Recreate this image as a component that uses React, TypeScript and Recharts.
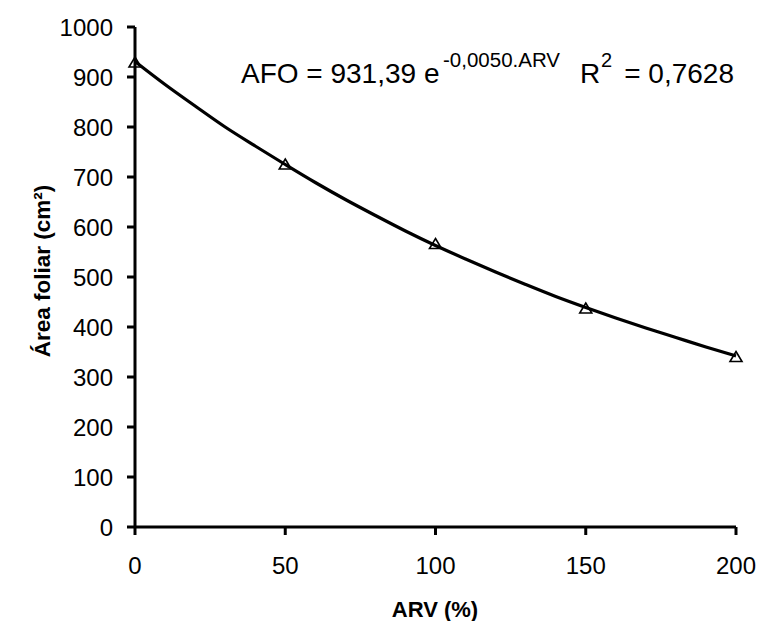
import {
    ComposedChart,
    Label,
    Line,
    Scatter,
    XAxis,
    YAxis,
} from 'recharts';

// fitted curve
const curveArv = [0, 10, 20, 30, 40, 50, 60, 70, 80, 90, 100, 110, 120, 130, 140, 150, 160, 170, 180, 190, 200];
const curveAfo = [931, 885, 842, 800, 762, 725, 689, 655, 623, 592, 563, 536, 510, 485, 461, 439, 418, 398, 379, 360, 342];

// observed points
const obsArv = [0, 50, 100, 150, 200];
const obsAfo = [929, 725, 566, 437, 340];

const xTicks = [0, 50, 100, 150, 200];
const yTicks = [0, 100, 200, 300, 400, 500, 600, 700, 800, 900, 1000];

const curveData = curveArv.map((x, i) => ({ x, afo: curveAfo[i] }));
const obsData = obsArv.map((x, i) => ({ x, obs: obsAfo[i] }));

const FONT = '"Liberation Sans", Arial, sans-serif';

function Triangle(props: any) {
    const { cx, cy } = props;
    if (cx == null || cy == null) return null;
    return (
        <path
            d={`M${cx},${cy - 5.5} L${cx + 6},${cy + 4.5} L${cx - 6},${cy + 4.5} Z`}
            fill="none"
            stroke="#000"
            strokeWidth={1.6}
        />
    );
}

export default function App() {
    return (
        <div style={{ position: 'absolute', left: 0, top: 0, width: 761, height: 621, background: '#fff', fontFamily: FONT }}>
            <ComposedChart
                width={761}
                height={621}
                data={curveData}
                margin={{ top: 27, right: 25, left: 0, bottom: 34 }}
            >
                <XAxis
                    dataKey="x"
                    type="number"
                    domain={[0, 200]}
                    ticks={xTicks}
                    height={60}
                    axisLine={{ stroke: '#000', strokeWidth: 3 }}
                    tickSize={8}
                    tickMargin={22}
                    tick={{ fill: '#000', fontSize: 24, fontFamily: FONT }}
                    tickLine={{ stroke: '#000', strokeWidth: 3 }}
                >
                    <Label
                        content={() => (
                            <text x={435} y={617} textAnchor="middle" fontSize={22} fontWeight="bold" fontFamily={FONT} fill="#000">
                                ARV (%)
                            </text>
                        )}
                    />
                </XAxis>
                <YAxis
                    type="number"
                    domain={[0, 1000]}
                    ticks={yTicks}
                    width={135}
                    axisLine={{ stroke: '#000', strokeWidth: 3 }}
                    tickSize={8}
                    tickMargin={14}
                    tick={{ fill: '#000', fontSize: 24, fontFamily: FONT }}
                    tickLine={{ stroke: '#000', strokeWidth: 3 }}
                    interval={0}
                >
                    <Label
                        content={() => (
                            <text
                                x={50}
                                y={271}
                                transform="rotate(-90 50 271)"
                                textAnchor="middle"
                                fontSize={22.5}
                                fontWeight="bold"
                                fontFamily={FONT}
                                fill="#000"
                            >
                                Área foliar (cm²)
                            </text>
                        )}
                    />
                </YAxis>
                <Scatter
                    data={obsData}
                    dataKey="obs"
                    shape={<Triangle />}
                    isAnimationActive={false}
                />
                <Line
                    dataKey="afo"
                    type="monotone"
                    stroke="#000"
                    strokeWidth={3.2}
                    dot={false}
                    activeDot={false}
                    isAnimationActive={false}
                />
            </ComposedChart>
            <svg
                width={761}
                height={621}
                style={{ position: 'absolute', left: 0, top: 0, pointerEvents: 'none' }}
            >
                <g fontFamily={FONT} fill="#000">
                    <text x={241} y={83} fontSize={28}>AFO = 931,39 e</text>
                    <text x={443} y={67} fontSize={20.5}>-0,0050.ARV</text>
                    <text x={580} y={83} fontSize={28}>R</text>
                    <text x={601} y={67} fontSize={20}>2</text>
                    <text x={734} y={83} fontSize={28} textAnchor="end">= 0,7628</text>
                </g>
            </svg>
        </div>
    );
}
